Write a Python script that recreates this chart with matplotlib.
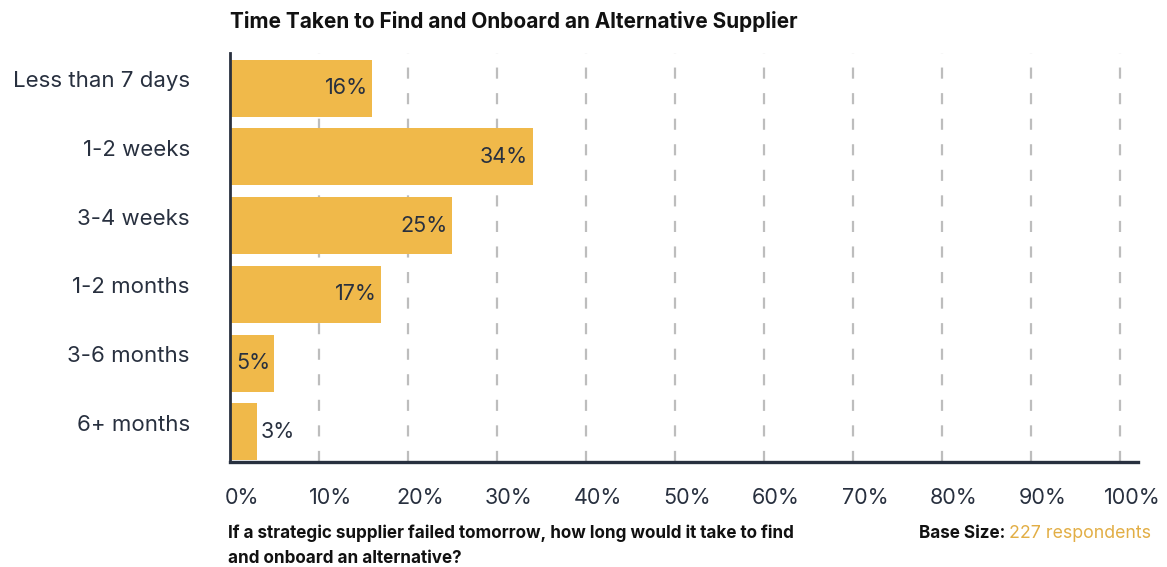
import matplotlib.pyplot as plt
import matplotlib.transforms as mtransforms

categories = ["Less than 7 days", "1-2 weeks", "3-4 weeks", "1-2 months", "3-6 months", "6+ months"]
shares = [16, 34, 25, 17, 5, 3]
tick_values = [0, 10, 20, 30, 40, 50, 60, 70, 80, 90, 100]
tick_labels = [f"{v}%" for v in tick_values]

BAR = "#F0B94A"
INK = "#28303F"
GOLD = "#E2AE45"

plt.rcParams['font.family'] = ['Inter', 'DejaVu Sans']

fig = plt.figure(figsize=(11.67, 5.67), dpi=100)
ax = fig.add_axes([0.197, 0.185, 0.778, 0.7213])

ypos = list(range(len(categories)))
ax.barh(ypos, shares, height=0.83, color=BAR, zorder=2)

# grid drawn by hand so the dashes look like the original report
for v in tick_values[1:]:
    ax.axvline(v, color="#BDBDBD", lw=1.6, ls=(0, (5, 6.5)), zorder=1)

for y, v in zip(ypos, shares):
    if v >= 5:
        ax.text(v - 0.5, y, f"{v}%", ha="right", va="center", fontsize=15.5,
                color=INK, zorder=3)
    else:
        ax.text(v + 0.5, y, f"{v}%", ha="left", va="center", fontsize=15.5,
                color=INK, zorder=3)

ax.set_xlim(0, 102)
ax.set_ylim(5.44, -0.51)
ax.set_xticks(tick_values)
ax.set_yticks(ypos)
ax.tick_params(axis="both", length=0, labelbottom=False, labelleft=False)

# tick labels placed as text so they can sit a little off the tick position
xlab_tr = ax.get_xaxis_transform() + mtransforms.ScaledTranslation(
    12 / 100, -36 / 100, fig.dpi_scale_trans)
for v, lab in zip(tick_values, tick_labels):
    ax.text(v, 0, lab, transform=xlab_tr, ha="center", va="center",
            fontsize=15.5, color=INK, clip_on=False)

ylab_tr = ax.get_yaxis_transform() + mtransforms.ScaledTranslation(
    -40 / 100, 7 / 100, fig.dpi_scale_trans)
for y, lab in zip(ypos, categories):
    ax.text(0, y, lab, transform=ylab_tr, ha="right", va="center",
            fontsize=16, color=INK, clip_on=False)

for s in ["top", "right"]:
    ax.spines[s].set_visible(False)
ax.spines["left"].set_color(INK)
ax.spines["left"].set_linewidth(2)
ax.spines["bottom"].set_color(INK)
ax.spines["bottom"].set_linewidth(2.4)
ax.spines["left"].set_zorder(4)

fig.text(230 / 1167, 1 - 22 / 567, "Time Taken to Find and Onboard an Alternative Supplier",
         fontsize=15, fontweight="bold", color="#111111", ha="left", va="center")

fig.text(228 / 1167, 1 - 525 / 567,
         "If a strategic supplier failed tomorrow, how long would it take to find\nand onboard an alternative?",
         fontsize=12.3, fontweight="bold", color="#111111", ha="left", va="top",
         linespacing=1.6)
fig.text(1009 / 1167, 1 - 534 / 567, "227 respondents", fontsize=12.8, color=GOLD,
         ha="left", va="center")
fig.text(1005 / 1167, 1 - 534 / 567, "Base Size:", fontsize=12.3, fontweight="bold",
         color="#111111", ha="right", va="center")

fig.savefig("out.png", dpi=100)
